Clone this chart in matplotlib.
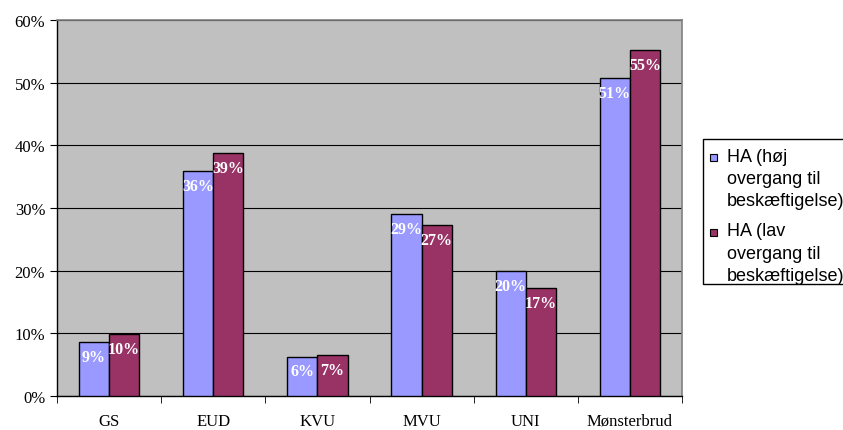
import matplotlib
matplotlib.use("Agg")
import matplotlib.pyplot as plt
import numpy as np
from matplotlib.ticker import FuncFormatter, FixedLocator
from matplotlib.patches import Rectangle

categories = ["GS", "EUD", "KVU", "MVU", "UNI", "Mønsterbrud"]
high_vals = [8.6, 35.9, 6.3, 29.0, 19.9, 50.8]
low_vals = [9.9, 38.8, 6.6, 27.3, 17.2, 55.2]
high_labels = ["9%", "36%", "6%", "29%", "20%", "51%"]
low_labels = ["10%", "39%", "7%", "27%", "17%", "55%"]
series_names = ["HA (høj\novergang til\nbeskæftigelse)", "HA (lav\novergang til\nbeskæftigelse)"]

blue = "#9999FF"
red = "#993366"
W, H = 843, 431

fig = plt.figure(figsize=(W/100, H/100), dpi=100)
ax = fig.add_axes([57/W, 1-397/H, (682-57)/W, (397-21)/H])
ax.set_facecolor("#C0C0C0")

x = np.arange(len(categories))
w = 0.29
b1 = ax.bar(x - w/2, high_vals, w, color=blue, edgecolor="black", linewidth=1.0, label=series_names[0], zorder=3)
b2 = ax.bar(x + w/2, low_vals, w, color=red, edgecolor="black", linewidth=1.0, label=series_names[1], zorder=3)

serif = "Liberation Serif"
for bars, labs in ((b1, high_labels), (b2, low_labels)):
    for rect, lab in zip(bars, labs):
        ax.annotate(lab, (rect.get_x() + rect.get_width()/2, rect.get_height()),
                    xytext=(0, -5), textcoords="offset points", ha="center", va="top",
                    color="white", fontweight="bold", fontfamily=serif, fontsize=11.5, zorder=4)

ax.set_xlim(-0.5, len(categories) - 0.5)
ax.set_ylim(0, 60)
ax.set_yticks(np.arange(0, 61, 10))
ax.yaxis.set_major_formatter(FuncFormatter(lambda v, p: f"{int(v)}%"))
ax.yaxis.grid(True, color="black", linewidth=0.8, zorder=1)
ax.set_axisbelow(True)

ax.set_xticks(x)
ax.set_xticklabels(categories)
ax.tick_params(axis="x", which="major", length=0, pad=12)
ax.xaxis.set_minor_locator(FixedLocator(np.arange(-0.5, len(categories), 1.0)))
ax.tick_params(axis="x", which="minor", length=5, direction="out", color="black")
ax.tick_params(axis="y", length=5, direction="out", color="black")

for lab in ax.get_xticklabels() + ax.get_yticklabels():
    lab.set_fontfamily(serif)
    lab.set_fontsize(12)

for side in ("left", "bottom"):
    ax.spines[side].set_color("black")
    ax.spines[side].set_linewidth(1.0)
for side in ("top", "right"):
    ax.spines[side].set_color("#808080")
    ax.spines[side].set_linewidth(1.2)

# Legend (drawn manually to match the reference layout: marker beside the first line)
def fx(px):
    return px / W

def fy(py):
    return 1 - py / H

fig.add_artist(Rectangle((fx(703), fy(285)), fx(160), (285-140)/H, transform=fig.transFigure,
                         facecolor="white", edgecolor="black", linewidth=1.0, clip_on=False))
entry_baselines = [[161.7, 184, 206], [236.5, 259, 281]]
for name, color, bases in zip(series_names, [blue, red], entry_baselines):
    fig.add_artist(Rectangle((fx(710), fy(bases[0])), fx(7), 7/H, transform=fig.transFigure,
                             facecolor=color, edgecolor="black", linewidth=0.8))
    for line, by in zip(name.split("\n"), bases):
        fig.text(fx(727), fy(by), line, ha="left", va="baseline",
                 fontfamily="Liberation Sans", fontsize=13, color="black")

fig.savefig("out.png", dpi=100)
